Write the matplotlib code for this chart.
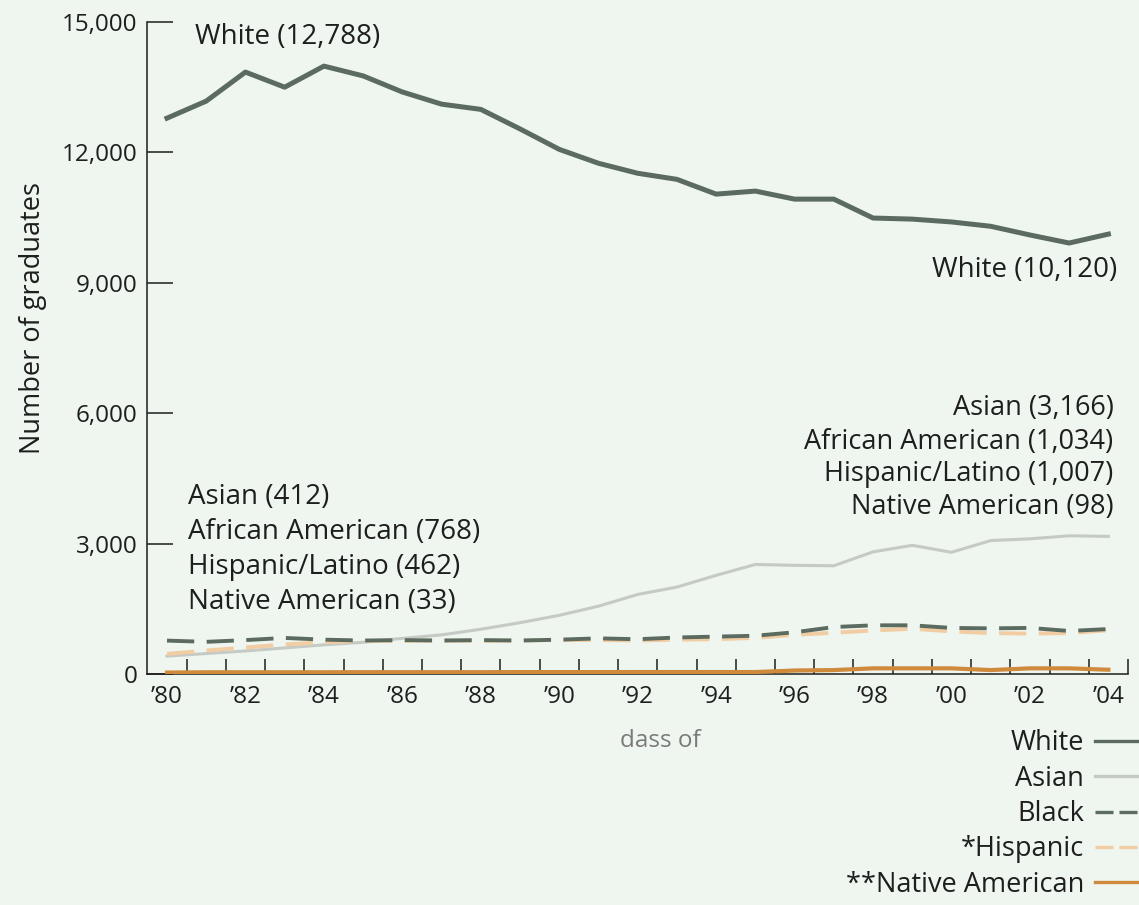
import matplotlib
matplotlib.use("Agg")
import matplotlib.pyplot as plt
from matplotlib.ticker import FixedLocator, FuncFormatter

plt.rcParams['font.family'] = ['Open Sans', 'DejaVu Sans']

years = list(range(1980, 2005))
white = [12788, 13180, 13848, 13500, 13985, 13760, 13390, 13110, 12990, 12540,
         12070, 11750, 11520, 11380, 11040, 11110, 10925, 10925, 10490, 10465,
         10400, 10300, 10100, 9915, 10120]
asian = [412, 470, 530, 600, 670, 730, 820, 900, 1030, 1180,
         1350, 1560, 1830, 2000, 2270, 2520, 2500, 2490, 2810, 2960,
         2800, 3070, 3110, 3180, 3166]
black = [768, 740, 780, 830, 790, 770, 780, 770, 780, 770,
         790, 820, 800, 840, 860, 880, 960, 1080, 1120, 1120,
         1060, 1050, 1060, 990, 1034]
hispanic = [462, 540, 610, 680, 730, 760, 760, 770, 760, 770,
            780, 780, 770, 790, 800, 830, 900, 950, 1000, 1040,
            980, 940, 930, 940, 1007]
native = [33, 40, 40, 40, 40, 42, 42, 42, 42, 44,
          44, 44, 45, 45, 45, 45, 80, 90, 130, 130,
          130, 90, 130, 130, 98]

y_ticks = [0, 3000, 6000, 9000, 12000, 15000]
x_label_years = list(range(1980, 2005, 2))

BG = '#eef6ef'
DARK = '#5c6b60'
TXT = '#1e1e1e'

fig = plt.figure(figsize=(11.39, 9.05), dpi=100, facecolor=BG)
ax = fig.add_axes([0.12906, 0.25525, 0.86128, 0.72044])
ax.set_facecolor(BG)

l_white, = ax.plot(years, white, color=DARK, lw=3.6, solid_joinstyle='round', label='White', zorder=5)
l_asian, = ax.plot(years, asian, color='#c6cac4', lw=2.2, label='Asian', zorder=3)
l_black, = ax.plot(years, black, color=DARK, lw=2.8, dashes=(7, 3.2), label='Black', zorder=4)
l_hisp, = ax.plot(years, hispanic, color='#f2cca2', lw=2.8, dashes=(7, 3.2), label='*Hispanic', zorder=3.5)
l_native, = ax.plot(years, native, color='#cf8a3c', lw=3.0, label='**Native American', zorder=6)

ax.set_xlim(1979.49, 2004.5)
ax.set_ylim(0, 15000)

for s in ['top', 'right']:
    ax.spines[s].set_visible(False)
for s in ['left', 'bottom']:
    ax.spines[s].set_color(TXT)
    ax.spines[s].set_linewidth(1.1)

ax.yaxis.set_major_locator(FixedLocator(y_ticks))
ax.yaxis.set_major_formatter(FuncFormatter(lambda v, p: f"{int(v):,}"))
ax.tick_params(axis='y', direction='in', length=18.5, width=1.1, color=TXT,
               labelsize=17.5, labelcolor=TXT, pad=7)

ax.xaxis.set_major_locator(FixedLocator(x_label_years))
ax.xaxis.set_major_formatter(FuncFormatter(lambda v, p: "\u2019" + f"{int(v) % 100:02d}"))
ax.xaxis.set_minor_locator(FixedLocator([y + 0.5 for y in years]))
ax.tick_params(axis='x', which='major', length=0, labelsize=17.5, labelcolor=TXT, pad=8)
ax.tick_params(axis='x', which='minor', direction='in', length=11, width=1.1, color=TXT)

ax.set_ylabel('Number of graduates', fontsize=19.5, color=TXT)
ax.yaxis.set_label_coords(-0.102, 0.546)
ax.set_xlabel('dass of', fontsize=17.5, color='#7a7a7a')
ax.xaxis.set_label_coords(0.523, -0.085)

fs = 20
ax.text(1980.71, 14650, 'White (12,788)', fontsize=fs, color=TXT, ha='left', va='center')
ax.text(2004.23, 9290, 'White (10,120)', fontsize=fs, color=TXT, ha='right', va='center')

left_lines = ['Asian (412)', 'African American (768)', 'Hispanic/Latino (462)', 'Native American (33)']
left_y = [4071, 3266, 2461, 1656]
for t, yy in zip(left_lines, left_y):
    ax.text(1980.54, yy, t, fontsize=fs, color=TXT, ha='left', va='center')

right_lines = ['Asian (3,166)', 'African American (1,034)', 'Hispanic/Latino (1,007)', 'Native American (98)']
right_y = [6118, 5336, 4600, 3841]
for t, yy in zip(right_lines, right_y):
    ax.text(2004.13, yy, t, fontsize=fs - 0.5, color=TXT, ha='right', va='center')

leg = ax.legend(handles=[l_white, l_asian, l_black, l_hisp, l_native],
                loc='upper right', bbox_to_anchor=(0.998, 0.194),
                bbox_transform=fig.transFigure, frameon=False, markerfirst=False,
                fontsize=19.5, handlelength=1.55, handletextpad=0.4, labelspacing=0.27,
                borderpad=0, borderaxespad=0)
for t in leg.get_texts():
    t.set_color(TXT)
for ln in leg.get_lines():
    ln.set_linewidth(2.4)
leg.get_lines()[2].set_dashes((5.4, 1.8))
leg.get_lines()[3].set_dashes((5.4, 1.8))

fig.savefig('out.png', dpi=100, facecolor=BG)
